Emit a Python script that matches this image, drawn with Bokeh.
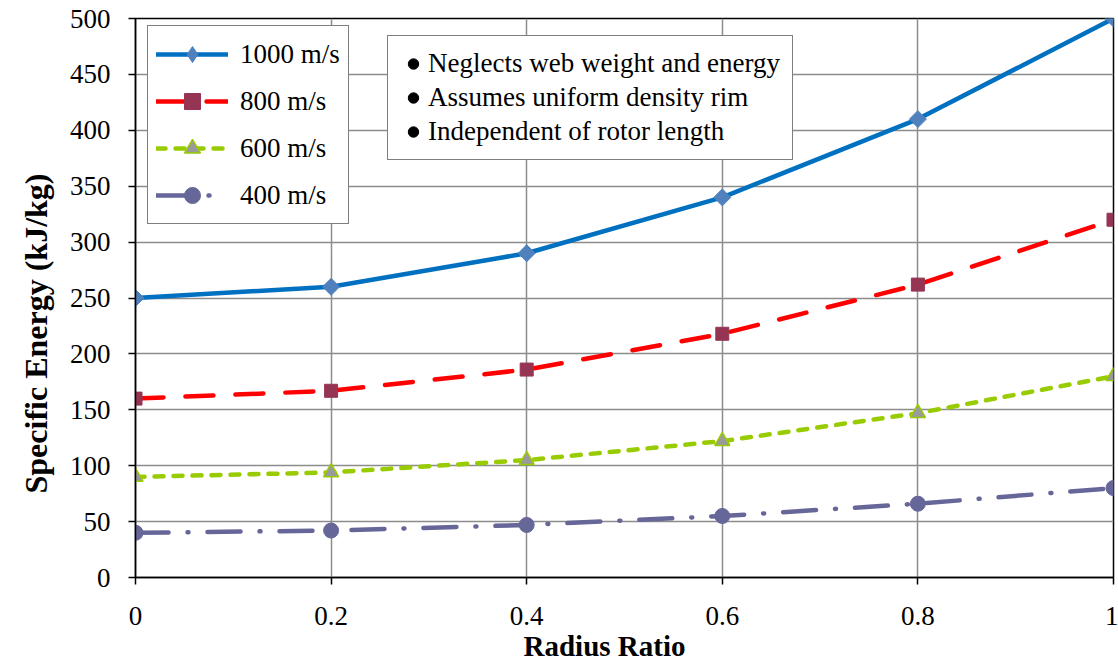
from bokeh.plotting import figure
from bokeh.models import (Legend, LegendItem, FixedTicker, ColumnDataSource, Range1d, Title)
from bokeh.embed import file_html
from bokeh.resources import INLINE
import math

# ---- data ----
radius_ratio = [0, 0.2, 0.4, 0.6, 0.8, 1.0]
e_1000 = [250, 260, 290, 340, 410, 500]
e_800 = [160, 167, 186, 218, 262, 320]
e_600 = [90, 94, 105, 122, 147, 180]
e_400 = [40, 42, 47, 55, 66, 80]
series_names = ["1000 m/s", "800 m/s", "600 m/s", "400 m/s"]
x_ticks = [0, 0.2, 0.4, 0.6, 0.8, 1.0]
x_tick_labels = ["0", "0.2", "0.4", "0.6", "0.8", "1"]
y_ticks = [0, 50, 100, 150, 200, 250, 300, 350, 400, 450, 500]
notes = ["Neglects web weight and energy", "Assumes uniform density rim",
         "Independent of rotor length"]
x_title = "Radius Ratio"
y_title = "Specific Energy (kJ/kg)"

FONT = "Liberation Serif"
nan = float("nan")

p = figure(width=1118, height=669, output_backend="svg", toolbar_location=None,
           x_range=Range1d(0, 1), y_range=Range1d(0, 500),
           min_border_left=135, min_border_right=5, min_border_top=18, min_border_bottom=92)
p.background_fill_color = "white"
p.border_fill_color = "white"
p.outline_line_color = "black"
p.outline_line_width = 1.5

# grid
for g in (p.xgrid, p.ygrid):
    g.grid_line_color = "#8C8C8C"
    g.grid_line_width = 1.5
p.xaxis.ticker = FixedTicker(ticks=x_ticks)
p.yaxis.ticker = FixedTicker(ticks=y_ticks)
p.xaxis.major_label_overrides = {t: lab for t, lab in zip(x_ticks, x_tick_labels)}

for ax in (p.xaxis, p.yaxis):
    ax.axis_line_color = "black"
    ax.axis_line_width = 1.5
    ax.major_tick_line_color = "black"
    ax.major_tick_line_width = 1.5
    ax.major_tick_in = 0
    ax.major_tick_out = 7
    ax.minor_tick_line_color = None
    ax.major_label_text_font = FONT
    ax.major_label_text_font_size = "27px"
    ax.major_label_text_color = "black"
p.xaxis.major_label_standoff = 22
p.yaxis.major_label_standoff = 18

# axis titles as side-panel titles
y_t = Title(text=y_title, align="left", offset=84, text_font=FONT, text_font_size="32px",
            text_font_style="bold", text_color="black", standoff=25)
p.add_layout(y_t, "left")
x_t = Title(text=x_title, align="left", offset=388, text_font=FONT, text_font_size="29px",
            text_font_style="bold", text_color="black", standoff=0)
p.add_layout(x_t, "below")

src = ColumnDataSource(dict(x=radius_ratio, e1000=e_1000, e800=e_800, e600=e_600, e400=e_400))

l1 = p.line("x", "e1000", source=src, line_color="#0070C0", line_width=4.5, line_cap="round")
m1 = p.scatter("x", "e1000", source=src, marker="square", size=12, angle=math.pi / 4,
               fill_color="#4F81BD", line_color="#4F81BD")
# legend-only diamond (NaN data, never drawn in the plot)
m1_leg = p.scatter(x=[nan], y=[nan], marker="diamond", size=19,
                   fill_color="#4F81BD", line_color="#4F81BD")

l2 = p.line("x", "e800", source=src, line_color="#FF0000", line_width=4.5,
            line_dash="28 22", line_cap="round")
m2 = p.scatter("x", "e800", source=src, marker="square", size=13,
               fill_color="#953553", line_color="#953553")

l3 = p.line("x", "e600", source=src, line_color="#99CC00", line_width=4.5,
            line_dash="9 10", line_cap="round")
m3 = p.scatter("x", "e600", source=src, marker="triangle", size=15,
               fill_color="#9A9A9A", line_color="#99CC00", line_width=1.5)

l4 = p.line("x", "e400", source=src, line_color="#666699", line_width=4.5,
            line_dash="33 19 1 19", line_cap="round")
m4 = p.scatter("x", "e400", source=src, marker="circle", size=15,
               fill_color="#666699", line_color="#666699")

legend = Legend(items=[
    LegendItem(label=series_names[0], renderers=[l1, m1_leg]),
    LegendItem(label=series_names[1], renderers=[l2, m2]),
    LegendItem(label=series_names[2], renderers=[l3, m3]),
    LegendItem(label=series_names[3], renderers=[l4, m4]),
], location=(12, 353))
legend.label_text_font = FONT
legend.label_text_font_size = "27px"
legend.label_text_color = "black"
legend.glyph_width = 72
legend.glyph_height = 40
legend.label_height = 40
legend.spacing = 7
legend.padding = 8
legend.margin = 0
legend.label_standoff = 12
legend.border_line_color = "black"
legend.border_line_width = 1.5
legend.background_fill_color = "white"
legend.background_fill_alpha = 1
p.add_layout(legend)

# notes box: a second legend whose glyphs are black bullets (NaN data, legend-only)
bullets = [p.scatter(x=[nan], y=[nan], marker="circle", size=9,
                     fill_color="black", line_color="black") for _ in notes]
notes_legend = Legend(items=[LegendItem(label=t, renderers=[b]) for t, b in zip(notes, bullets)],
                      location=(252, 417))
notes_legend.label_text_font = FONT
notes_legend.label_text_font_size = "27px"
notes_legend.label_text_color = "black"
notes_legend.glyph_width = 26
notes_legend.glyph_height = 31
notes_legend.label_height = 31
notes_legend.spacing = 3
notes_legend.padding = 12
notes_legend.margin = 0
notes_legend.label_standoff = 2
notes_legend.border_line_color = "black"
notes_legend.border_line_width = 1.5
notes_legend.background_fill_color = "white"
notes_legend.background_fill_alpha = 1
p.add_layout(notes_legend)

open("out.html", "w").write(file_html(p, INLINE))
